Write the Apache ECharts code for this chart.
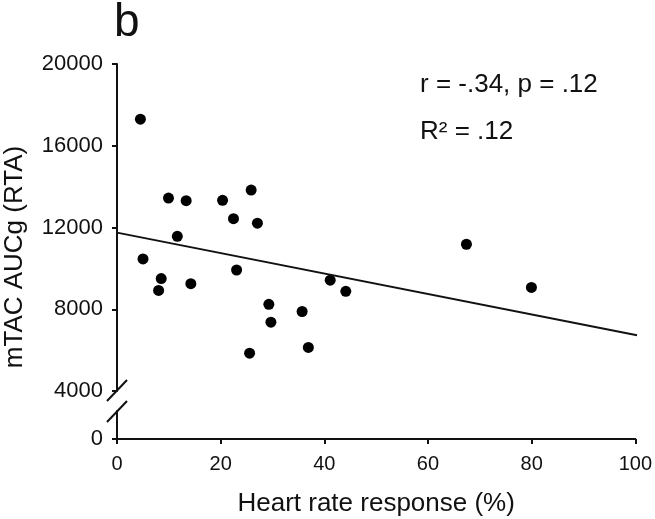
<!DOCTYPE html>
<html>
<head>
<meta charset="utf-8">
<script src="https://cdn.jsdelivr.net/npm/echarts@6/dist/echarts.min.js"></script>
<style>
  html, body { margin: 0; padding: 0; background: #fff; }
  #chart { width: 655px; height: 519px; }
</style>
</head>
<body>
<div id="chart"></div>
<script>
  // heart rate response (%) per participant
  var heartRate = [4.5, 9.9, 13.3, 20.3, 25.8, 22.4, 27.0, 11.6, 5.0, 8.5, 8.0,
                   14.2, 23.0, 29.2, 29.6, 25.5, 35.6, 36.8, 41.0, 44.0, 67.2, 79.7]
  // mTAC AUCg (RTA), same order
  var aucg = [17300, 13440, 13310, 13330, 13830, 12430, 12210, 11570, 10460, 9500, 8920,
              9250, 9920, 8240, 7370, 5850, 7890, 6130, 9420, 8880, 11180, 9070]
  // regression line ends
  var fitX = [0, 100]
  var fitY = [11750, 6730]
  // tick labels
  var xTicks = [0, 20, 40, 60, 80, 100]
  var yTicksTop = [4000, 8000, 12000, 16000, 20000]
  var yTicksBottom = [0]

  var font = "'Liberation Sans', Arial, sans-serif"
  var ink = '#111'

  var points = heartRate.map(function (x, i) { return [x, aucg[i]] })
  var fitLine = fitX.map(function (x, i) { return [x, fitY[i]] })

  var axisLine = { show: true, lineStyle: { color: ink, width: 2 } }
  var tick = { show: true, inside: false, length: 5, lineStyle: { color: ink, width: 2 } }
  var plain = function (v) { return String(v) }

  var chart = echarts.init(document.getElementById('chart'))
  chart.setOption({
    animation: false,
    backgroundColor: '#fff',
    grid: [
      { left: 117, right: 18, top: 64, height: 327 },
      { left: 117, right: 18, top: 411, height: 28 }
    ],
    xAxis: [
      { gridIndex: 0, type: 'value', min: xTicks[0], max: xTicks[xTicks.length - 1], show: false },
      {
        gridIndex: 1,
        type: 'value',
        min: xTicks[0],
        max: xTicks[xTicks.length - 1],
        interval: xTicks[1] - xTicks[0],
        axisLine: axisLine,
        axisTick: tick,
        splitLine: { show: false },
        axisLabel: { color: ink, fontSize: 20, fontFamily: font, margin: 15, formatter: plain },
        name: 'Heart rate response (%)',
        nameLocation: 'middle',
        nameGap: 52,
        nameTextStyle: { color: ink, fontSize: 26, fontFamily: font }
      }
    ],
    yAxis: [
      {
        gridIndex: 0,
        type: 'value',
        min: yTicksTop[0],
        max: yTicksTop[yTicksTop.length - 1],
        interval: yTicksTop[1] - yTicksTop[0],
        axisLine: axisLine,
        axisTick: tick,
        splitLine: { show: false },
        axisLabel: { color: ink, fontSize: 22, fontFamily: font, margin: 14, formatter: plain }
      },
      {
        gridIndex: 1,
        type: 'value',
        min: 0,
        max: 1000,
        axisLine: axisLine,
        axisTick: { show: true, inside: false, length: 5, lineStyle: { color: ink, width: 2 }, customValues: yTicksBottom },
        splitLine: { show: false },
        axisLabel: { color: ink, fontSize: 22, fontFamily: font, margin: 14, formatter: plain, customValues: yTicksBottom }
      }
    ],
    series: [
      {
        type: 'scatter',
        xAxisIndex: 0,
        yAxisIndex: 0,
        data: points,
        symbolSize: 11,
        itemStyle: { color: '#000', opacity: 1 }
      },
      {
        type: 'line',
        xAxisIndex: 0,
        yAxisIndex: 0,
        data: fitLine,
        symbol: 'none',
        lineStyle: { color: ink, width: 2 }
      }
    ],
    graphic: [
      // axis break marks
      { type: 'line', shape: { x1: 107, y1: 401, x2: 127, y2: 380 }, style: { stroke: ink, lineWidth: 2 } },
      { type: 'line', shape: { x1: 107, y1: 422, x2: 127, y2: 401 }, style: { stroke: ink, lineWidth: 2 } },
      {
        type: 'text', x: 114, y: 23,
        style: { text: 'b', font: '46px ' + font, fill: ink, verticalAlign: 'middle' }
      },
      {
        type: 'text', x: 420, y: 85,
        style: { text: 'r = -.34, p = .12', font: '26px ' + font, fill: ink, verticalAlign: 'middle' }
      },
      {
        type: 'text', x: 420, y: 132,
        style: { text: 'R\u00b2 = .12', font: '26px ' + font, fill: ink, verticalAlign: 'middle' }
      },
      {
        type: 'text', x: 15, y: 257, rotation: Math.PI / 2,
        style: { text: 'mTAC AUCg (RTA)', font: '26px ' + font, fill: ink, align: 'center', verticalAlign: 'middle' }
      }
    ]
  })
</script>
</body>
</html>
